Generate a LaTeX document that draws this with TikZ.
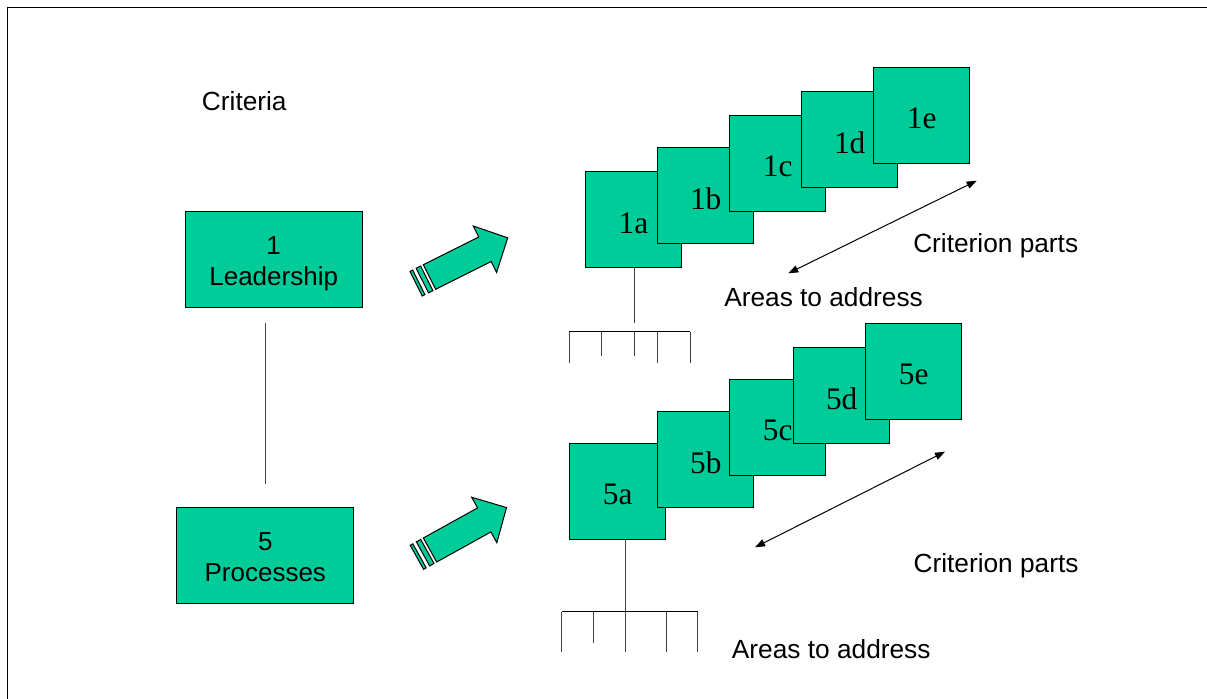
\documentclass[tikz,border=0pt]{standalone}
\usepackage{fontspec}
\setmainfont{Liberation Serif}
\setsansfont{Liberation Sans}
\usetikzlibrary{arrows.meta,calc}
\definecolor{mint}{RGB}{0,204,153}
% lower a label a little without changing its box size
\newcommand{\sqlabel}[1]{\raisebox{-2.6pt}[\height][\depth]{#1}}
\newcommand{\twolines}[2]{\raisebox{-3.5pt}[\height][\depth]{\begin{tabular}{@{}c@{}}#1\\#2\end{tabular}}}
\begin{document}
\begin{tikzpicture}[x=0.75pt,y=-0.75pt,
  part/.style={draw=black,fill=mint,line width=0.75pt,minimum width=72pt,minimum height=72pt,
    inner sep=0pt,outer sep=0pt,font=\fontsize{23.5}{27}\selectfont},
  crit/.style={draw=black,fill=mint,line width=0.75pt,minimum width=132.5pt,minimum height=71.7pt,
    inner sep=0pt,outer sep=0pt,font=\sffamily\fontsize{19.5}{23.3}\selectfont},
  caption/.style={anchor=base west,inner sep=0pt,font=\sffamily\fontsize{19.7}{23}\selectfont},
  tree/.style={line width=0.75pt,black!75},
  span/.style={line width=0.75pt,{Triangle[length=7.5pt,width=5.5pt]}-{Triangle[length=7.5pt,width=5.5pt]}},
  blockarrow/.pic={
    \path[draw=black,fill=mint,line width=0.75pt]
      (0,-13.75) -- (62,-13.75) -- (62,-26) -- (87.5,0) -- (62,26) -- (62,13.75) -- (0,13.75) -- cycle;
    \path[draw=black,fill=mint,line width=0.75pt] (-8,-13.75) rectangle (-3,13.75);
    \path[draw=black,fill=mint,line width=0.75pt] (-15,-13.75) rectangle (-12,13.75);
  }]
\useasboundingbox (0,0) rectangle (1207,699);

% page frame
\draw[line width=1pt] (7.7,699) -- (7.7,7.3) -- (1207,7.3);

\node[caption] (crittitle) at (201.7,110) {Criteria};

% the two criteria
\node[crit] (lead) at (273.7,259.5) {\twolines{1}{Leadership}};
\node[crit] (proc) at (265.3,555.5) {\twolines{5}{Processes}};
\draw[tree] ($(proc.north)+(0,-23.7)$) -- ($(proc.north)+(0,-184.7)$);

% block arrows
\pic[rotate=26.6] at (429.5,277) {blockarrow};
\pic[rotate=29] at (430,550) {blockarrow};

% criterion 1 parts
\node[part] (p1a) at (633.5,219.5) {\sqlabel{1a}};
\node[part] (p1b) at (705.7,195.2) {\sqlabel{1b}};
\node[part] (p1c) at (777.7,163.2) {\sqlabel{1c}};
\node[part] (p1d) at (849.7,139.2) {\sqlabel{1d}};
\node[part] (p1e) at (921.7,115.3) {\sqlabel{1e}};

% criterion 5 parts
\node[part] (p5a) at (617.7,491.3) {\sqlabel{5a}};
\node[part] (p5b) at (705.8,459.3) {\sqlabel{5b}};
\node[part] (p5c) at (777.7,427.3) {\sqlabel{5c}};
\node[part] (p5d) at (841.7,395.3) {\sqlabel{5d}};
\node[part] (p5e) at (913.7,371.3) {\sqlabel{5e}};

% criterion parts spans
\coordinate (s1a) at (788.3,273.3);
\coordinate (s1b) at (976.7,180.7);
\draw[span] (s1a) -- (s1b);
\coordinate (s5a) at (755,547.3);
\coordinate (s5b) at (945,451.7);
\draw[span] (s5a) -- (s5b);

\node[caption] (cp1) at (913,252.5) {Criterion parts};
\node[caption] (cp5) at (913.3,572) {Criterion parts};
\node[caption] (aa1) at (724,306.7) {Areas to address};
\node[caption] (aa5) at (731.7,658) {Areas to address};

% areas to address under 1a
\coordinate (t1) at (634,323.3);
\draw[tree] (p1a.south -| t1) -- (t1);
\draw[tree,black] (569.3,331.7) -- (690,331.7);
\draw[tree] (569.3,331.7) -- (569.3,363.3);
\draw[tree] (601.7,331.7) -- (601.7,355.7);
\draw[tree] (634,331.7) -- (634,355.7);
\draw[tree] (657.7,331.7) -- (657.7,363.3);
\draw[tree] (690,331.7) -- (690,363.3);

% areas to address under 5a
\coordinate (t5) at (625.7,651.7);
\draw[tree] (p5a.south -| t5) -- (t5);
\draw[tree,black] (561.7,611.7) -- (697.7,611.7);
\draw[tree] (561.7,611.7) -- (561.7,651.7);
\draw[tree] (593.7,611.7) -- (593.7,643.3);
\draw[tree] (666,611.7) -- (666,651.7);
\draw[tree] (697.7,611.7) -- (697.7,651.7);
\end{tikzpicture}
\end{document}
